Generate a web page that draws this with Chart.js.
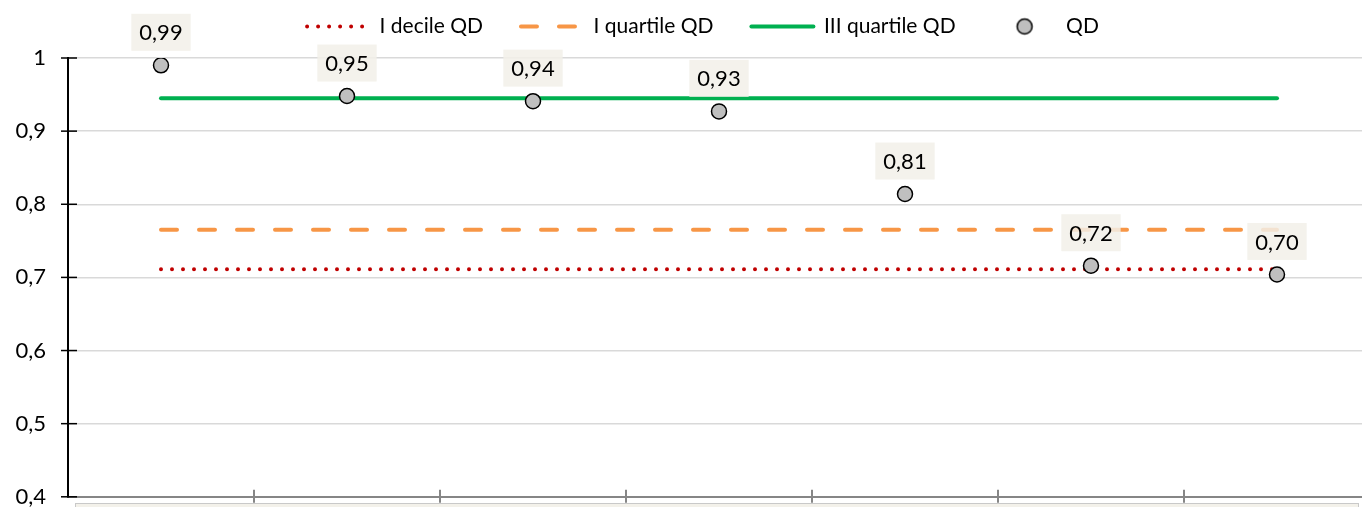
<!DOCTYPE html>
<html>
<head>
<meta charset="utf-8">
<script src="https://cdn.jsdelivr.net/npm/chart.js@4.4.0/dist/chart.umd.min.js"></script>
<style>
  html, body { margin: 0; padding: 0; background: #fff; overflow: hidden; }
  #wrap { position: relative; width: 1380px; height: 507px; overflow: hidden; }
  #qd-chart { display: block; }
  #strip { position: absolute; left: 75px; top: 503px; width: 1284px; height: 10px;
           background: #f3f1ea; border: 1px solid #c9c9c9; box-sizing: border-box; }
</style>
</head>
<body>
<div id="wrap">
  <canvas id="qd-chart" width="1380" height="510"></canvas>
  <div id="strip"></div>
</div>
<script>
// data
var categories = ['1', '2', '3', '4', '5', '6', '7'];
var qdValues = [0.990, 0.948, 0.941, 0.927, 0.814, 0.716, 0.704];
var decileI = [0.711, 0.711, 0.711, 0.711, 0.711, 0.711, 0.711];
var quartileI = [0.765, 0.765, 0.765, 0.765, 0.765, 0.765, 0.765];
var quartileIII = [0.945, 0.945, 0.945, 0.945, 0.945, 0.945, 0.945];
var yTicks = [0.4, 0.5, 0.6, 0.7, 0.8, 0.9, 1];

var FONT = 'Lato';
var FSIZE = 22;

function fmt(v, d) {
    if (v === 1) return '1';
    return v.toFixed(d).replace('.', ',');
}

// small circle image for the QD legend entry
var dotImg = document.createElement('canvas');
dotImg.width = 20; dotImg.height = 20;
(function () {
    var c = dotImg.getContext('2d');
    c.beginPath();
    c.arc(10, 10, 7.5, 0, Math.PI * 2);
    c.fillStyle = '#bfbfbf';
    c.fill();
    c.lineWidth = 1.5;
    c.strokeStyle = '#000';
    c.stroke();
})();

// fixed legend block height so the plot starts where the reference does
var legendFit = {
    id: 'legendFit',
    beforeLayout: function (chart) {
        var lg = chart.legend;
        if (lg && !lg._fitPatched) {
            var f = lg.fit;
            lg.fit = function () { f.call(this); this.height = 80; };
            lg._fitPatched = true;
        }
    },
    afterLayout: function (chart) {
        var lg = chart.legend;
        lg.left += 18;
        lg.right += 18;
    }
};

// cross ticks on both axes
var axisMarks = {
    id: 'axisMarks',
    afterDraw: function (chart) {
        var ctx = chart.ctx, x = chart.scales.x, y = chart.scales.y;
        ctx.save();
        ctx.strokeStyle = '#000';
        ctx.lineWidth = 1.5;
        y.ticks.forEach(function (t) {
            var py = y.getPixelForValue(t.value);
            ctx.beginPath();
            ctx.moveTo(y.right - 7, py);
            ctx.lineTo(y.right + 9, py);
            ctx.stroke();
        });
        ctx.strokeStyle = '#868686';
        ctx.lineWidth = 2;
        for (var i = 1; i <= categories.length; i++) {
            var px = x.getPixelForValue(i - 0.5);
            ctx.beginPath();
            ctx.moveTo(px, x.top - 7);
            ctx.lineTo(px, x.top + 6);
            ctx.stroke();
        }
        ctx.restore();
    }
};

// value boxes above the QD points
var qdLabels = {
    id: 'qdLabels',
    afterDatasetsDraw: function (chart) {
        var ctx = chart.ctx;
        var meta = chart.getDatasetMeta(3);
        ctx.save();
        ctx.font = FSIZE + 'px ' + FONT;
        ctx.textAlign = 'center';
        ctx.textBaseline = 'middle';
        meta.data.forEach(function (pt, i) {
            var txt = fmt(qdValues[i], 2);
            var w = ctx.measureText(txt).width + 16;
            var h = 37;
            var cy = pt.y - 33;
            ctx.fillStyle = 'rgba(242,240,233,0.85)';
            ctx.fillRect(pt.x - w / 2, cy - h / 2, w, h);
            ctx.fillStyle = '#000';
            ctx.fillText(txt, pt.x, cy + 1);
        });
        ctx.restore();
    }
};

var ctx = document.getElementById('qd-chart').getContext('2d');
var chart = new Chart(ctx, {
    type: 'line',
    data: {
        labels: categories,
        datasets: [{
            label: 'I decile QD',
            data: decileI,
            borderColor: '#c00000',
            borderWidth: 4,
            borderDash: [0, 11],
            borderCapStyle: 'round',
            pointRadius: 0,
            order: 1
        }, {
            label: 'I quartile QD',
            data: quartileI,
            borderColor: '#f79646',
            borderWidth: 4,
            borderDash: [16, 22],
            borderCapStyle: 'round',
            pointRadius: 0,
            order: 1
        }, {
            label: 'III quartile QD',
            data: quartileIII,
            borderColor: '#00b050',
            borderWidth: 4,
            borderCapStyle: 'round',
            pointRadius: 0,
            order: 1
        }, {
            label: 'QD',
            data: qdValues,
            showLine: false,
            pointRadius: 7.5,
            pointBackgroundColor: '#bfbfbf',
            pointBorderColor: '#000',
            pointBorderWidth: 1.5,
            order: 0
        }]
    },
    options: {
        responsive: false,
        animation: false,
        layout: {
            padding: { top: -22, right: 10, bottom: 0, left: 0 }
        },
        plugins: {
            tooltip: { enabled: false },
            legend: {
                display: true,
                position: 'top',
                labels: {
                    font: { family: FONT, size: 21 },
                    color: '#000',
                    usePointStyle: true,
                    pointStyleWidth: 62,
                    boxHeight: 14,
                    padding: 38,
                    generateLabels: function (chart) {
                        return chart.data.datasets.map(function (ds, i) {
                            var isDot = i === 3;
                            return {
                                text: ds.label,
                                datasetIndex: i,
                                fillStyle: isDot ? '#bfbfbf' : ds.borderColor,
                                strokeStyle: isDot ? '#000' : ds.borderColor,
                                lineWidth: isDot ? 1.5 : 4,
                                lineDash: ds.borderDash || [],
                                lineCap: ds.borderCapStyle || 'butt',
                                pointStyle: isDot ? dotImg : 'line',
                                hidden: false
                            };
                        });
                    }
                }
            }
        },
        scales: {
            x: {
                offset: true,
                grid: { display: false, offset: true },
                border: { display: true, color: '#868686', width: 2 },
                ticks: { display: false },
                afterFit: function (s) { s.height = 13; }
            },
            y: {
                min: 0.4,
                max: 1,
                afterBuildTicks: function (s) {
                    s.ticks = yTicks.map(function (v) { return { value: v }; });
                },
                grid: { color: '#d9d9d9', lineWidth: 1.5, drawTicks: true, tickLength: 22, tickColor: 'rgba(0,0,0,0)' },
                border: { display: true, color: '#000', width: 2 },
                ticks: {
                    padding: 0,
                    color: '#000',
                    font: { family: FONT, size: FSIZE },
                    callback: function (v) { return fmt(v, 1); }
                },
                afterFit: function (s) { s.width = 68; }
            }
        }
    },
    plugins: [legendFit, axisMarks, qdLabels]
});
</script>
</body>
</html>
